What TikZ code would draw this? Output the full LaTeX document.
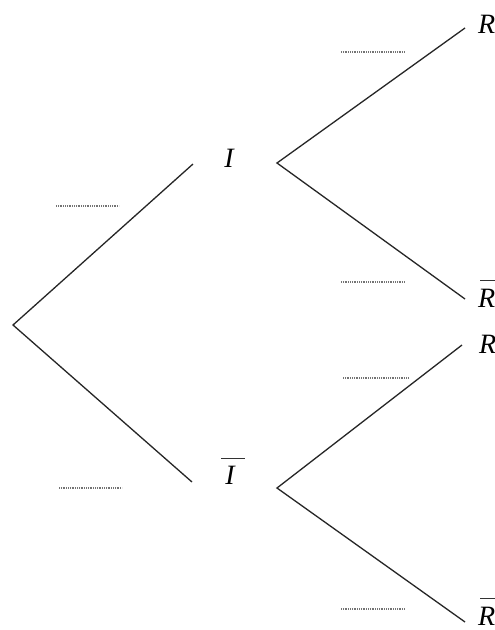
\documentclass[tikz,border=0pt]{standalone}
\usepackage{fontspec}
\setmainfont{Liberation Serif}
\begin{document}
\begin{tikzpicture}[x=1pt,y=-1pt,
  branch/.style={line width=1.3pt, draw=black!85},
  lbl/.style={inner sep=0pt, font=\fontsize{28}{30}\selectfont\itshape},
  barline/.style={line width=1.4pt, draw=black!80},
  blankline/.style={line width=1.6pt, draw=black!55, dash pattern=on 1pt off 0.8pt}]
\fill[white] (0,0) rectangle (495,630);
\useasboundingbox (0,0) rectangle (495,630);
% branch points
\coordinate (O) at (13,325);
\coordinate (Iin) at (193,164);
\coordinate (Iout) at (277,163);
\coordinate (Ibin) at (192,482);
\coordinate (Ibout) at (277,488);
\coordinate (R1in) at (465,28);
\coordinate (R2in) at (465,299);
\coordinate (R3in) at (462,345);
\coordinate (R4in) at (465,622);
% labels
\node[lbl] (I) at (229,158) {I};
\node[lbl] (Ib) at (230,475) {I};
\node[lbl, anchor=west] (R1) at (478,24) {R};
\node[lbl, anchor=west] (R2) at (478,298) {R};
\node[lbl, anchor=west] (R3) at (479,344) {R};
\node[lbl, anchor=west] (R4) at (478,616) {R};
% bars
\draw[barline] ([xshift=-4pt,yshift=7pt]Ib.north west) -- ([xshift=20pt,yshift=7pt]Ib.north west);
\draw[barline] ([xshift=2pt,yshift=8pt]R2.north west) -- ([xshift=30pt,yshift=8pt]R2.north west);
\draw[barline] ([xshift=2pt,yshift=8pt]R4.north west) -- ([xshift=30pt,yshift=8pt]R4.north west);
% connectors
\draw[branch] (Iin) -- (O) -- (Ibin);
\draw[branch] (R1in) -- (Iout) -- (R2in);
\draw[branch] (R3in) -- (Ibout) -- (R4in);
% blanks
\draw[blankline] (56,206) -- (119,206);
\draw[blankline] (59,488) -- (122,488);
\draw[blankline] (341,52) -- (405,52);
\draw[blankline] (341,282) -- (405,282);
\draw[blankline] (343,378) -- (408,378);
\draw[blankline] (341,609) -- (405,609);
\end{tikzpicture}
\end{document}
